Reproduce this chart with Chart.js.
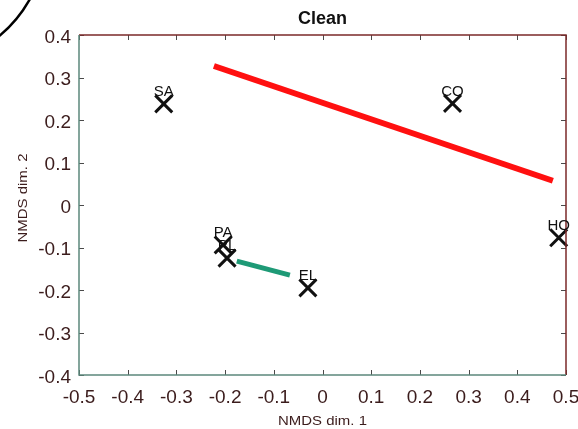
<!DOCTYPE html>
<html><head><meta charset="utf-8">
<script src="https://cdn.jsdelivr.net/npm/chart.js@4/dist/chart.umd.min.js"></script>
<style>html,body{margin:0;padding:0;background:#fff}#wrap{width:578px;height:429px}</style>
</head><body><div id="wrap"><canvas id="c" width="578" height="429"></canvas></div>
<script>
const siteLabels = ['SA','CO','HO','PA','PL','EL'];
const siteX = [-0.326, 0.267, 0.485, -0.204, -0.196, -0.030];
const siteY = [0.238, 0.239, -0.077, -0.094, -0.125, -0.195];
const redLineX = [-0.223, 0.473];
const redLineY = [0.327, 0.057];
const greenLineX = [-0.176, -0.067];
const greenLineY = [-0.132, -0.165];
const xTicks = [-0.5,-0.4,-0.3,-0.2,-0.1,0,0.1,0.2,0.3,0.4,0.5];
const yTicks = [-0.4,-0.3,-0.2,-0.1,0,0.1,0.2,0.3,0.4];
const titleText = 'Clean';
const xTitle = 'NMDS dim. 1';
const yTitle = 'NMDS dim. 2';

const FONT = '"Liberation Sans", Arial, sans-serif';
const fmt = v => (Math.abs(v) < 1e-9 ? '0' : String(Math.round(v*10)/10));

const deco = {
  id: 'deco',
  afterDraw(chart) {
    const ctx = chart.ctx, a = chart.chartArea;
    const xs = chart.scales.x, ys = chart.scales.y;
    ctx.save();
    // inward ticks
    ctx.strokeStyle = '#4a4a4a'; ctx.lineWidth = 1;
    xTicks.forEach(v => {
      const px = Math.round(xs.getPixelForValue(v)) + 0.5;
      ctx.beginPath(); ctx.moveTo(px, a.bottom); ctx.lineTo(px, a.bottom - 5); ctx.stroke();
      ctx.beginPath(); ctx.moveTo(px, a.top); ctx.lineTo(px, a.top + 5); ctx.stroke();
    });
    yTicks.forEach(v => {
      const py = Math.round(ys.getPixelForValue(v)) + 0.5;
      ctx.beginPath(); ctx.moveTo(a.left, py); ctx.lineTo(a.left + 5, py); ctx.stroke();
      ctx.beginPath(); ctx.moveTo(a.right, py); ctx.lineTo(a.right - 5, py); ctx.stroke();
    });
    // borders
    ctx.lineWidth = 1.5;
    ctx.strokeStyle = '#7b2a2a';
    ctx.beginPath(); ctx.moveTo(a.left, a.top); ctx.lineTo(a.right, a.top); ctx.lineTo(a.right, a.bottom); ctx.stroke();
    ctx.strokeStyle = '#5c887c';
    ctx.beginPath(); ctx.moveTo(a.left, a.top); ctx.lineTo(a.left, a.bottom); ctx.lineTo(a.right, a.bottom); ctx.stroke();
    // tick labels, placed through the scales
    ctx.fillStyle = '#3b1c1c'; ctx.font = '19px ' + FONT;
    ctx.textBaseline = 'alphabetic';
    ctx.textAlign = 'center';
    xTicks.forEach(v => ctx.fillText(fmt(v), xs.getPixelForValue(v), a.bottom + 28));
    ctx.textAlign = 'right';
    yTicks.forEach(v => ctx.fillText(fmt(v), a.left - 8, ys.getPixelForValue(v) + 7.5));
    // point labels
    ctx.fillStyle = '#111'; ctx.font = '15px ' + FONT;
    ctx.textAlign = 'center'; ctx.textBaseline = 'middle';
    siteLabels.forEach((l, i) => {
      ctx.fillText(l, xs.getPixelForValue(siteX[i]), ys.getPixelForValue(siteY[i]) - 12);
    });
    // title
    ctx.fillStyle = '#111'; ctx.font = 'bold 18px ' + FONT;
    ctx.fillText(titleText, (a.left + a.right) / 2, 19);
    // axis titles (slightly stretched, as in the reference)
    ctx.fillStyle = '#3b1c1c'; ctx.font = '13px ' + FONT;
    ctx.save();
    ctx.translate((a.left + a.right) / 2, 421);
    ctx.scale(1.15, 1);
    ctx.fillText(xTitle, 0, 0);
    ctx.restore();
    ctx.save();
    ctx.translate(23, 198);
    ctx.rotate(-Math.PI / 2);
    ctx.scale(1.15, 1);
    ctx.fillText(yTitle, 0, 0);
    ctx.restore();
    // corner arc
    ctx.strokeStyle = '#000'; ctx.lineWidth = 2.5;
    ctx.beginPath(); ctx.moveTo(-2, 37); ctx.quadraticCurveTo(17, 22, 30, -1); ctx.stroke();
    ctx.restore();
  }
};

new Chart(document.getElementById('c'), {
  type: 'scatter',
  data: {
    datasets: [
      { data: redLineX.map((x, i) => ({x, y: redLineY[i]})), showLine: true, borderColor: '#ff1010', borderWidth: 6, pointRadius: 0, borderCapStyle: 'butt' },
      { data: greenLineX.map((x, i) => ({x, y: greenLineY[i]})), showLine: true, borderColor: '#1e9a76', borderWidth: 5, pointRadius: 0 },
      { data: siteX.map((x, i) => ({x, y: siteY[i]})), pointStyle: 'crossRot', pointRadius: 12, borderColor: '#111', borderWidth: 3, backgroundColor: '#111', clip: false }
    ]
  },
  options: {
    responsive: false, animation: false, events: [],
    layout: { autoPadding: false, padding: { top: 35, right: 12, left: 0, bottom: 0 } },
    plugins: { legend: { display: false }, tooltip: { enabled: false }, title: { display: false } },
    scales: {
      x: {
        type: 'linear', min: -0.5, max: 0.5,
        afterFit: s => { s.height = 54; },
        afterBuildTicks: s => { s.ticks = xTicks.map(v => ({value: v})); },
        grid: { display: false, drawTicks: false }, border: { display: false },
        ticks: { display: false }
      },
      y: {
        type: 'linear', min: -0.4, max: 0.4,
        afterFit: s => { s.width = 79; },
        afterBuildTicks: s => { s.ticks = yTicks.map(v => ({value: v})); },
        grid: { display: false, drawTicks: false }, border: { display: false },
        ticks: { display: false }
      }
    }
  },
  plugins: [deco]
});
</script>
</body></html>
